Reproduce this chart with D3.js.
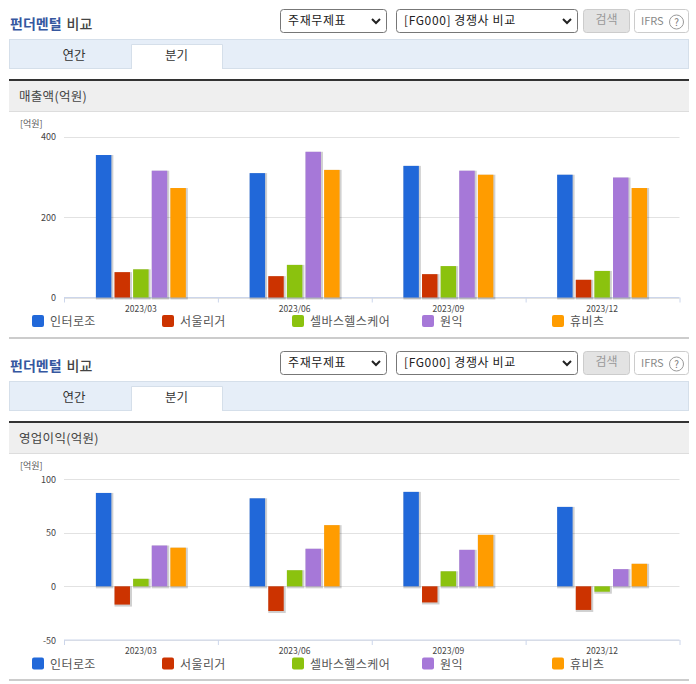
<!DOCTYPE html>
<html>
<head>
<meta charset="utf-8">
<script src="https://cdn.jsdelivr.net/npm/d3@7"></script>
<style>
	html, body { margin: 0; padding: 0; background: #fff; }
	svg { display: block; }
	text { font-family: "Noto Sans CJK KR", "Noto Sans", sans-serif; }
</style>
</head>
<body>
<svg id="chart" width="696" height="684"></svg>
<script>
var categories = ['2023/03', '2023/06', '2023/09', '2023/12'];
var companies = ['인터로조', '서울리거', '셀바스헬스케어', '원익', '휴비츠'];
var colors = ['#2168d9', '#cc3300', '#8bc20e', '#a678d8', '#ff9c00'];

// 매출액 by company, one value per quarter
var salesValues = [
	[354, 309, 327, 305],
	[63, 53, 58, 44],
	[70, 81, 78, 66],
	[315, 362, 315, 298],
	[272, 317, 305, 272]
];
var salesTicks = [0, 200, 400];

// 영업이익 by company
var profitValues = [
	[87, 82, 88, 74],
	[-17, -23, -15, -22],
	[7, 15, 14, -5],
	[38, 35, 34, 16],
	[36, 57, 48, 21]
];
var profitTicks = [-50, 0, 50, 100];

var tabs = ['연간', '분기'];
var legendX = [32, 162, 292, 422, 552];

var svg = d3.select('#chart');

function drawPanel(top, title, values, ticks, yDomain, yTop, yBottom) {
	var g = svg.append('g');

	// header row
	var head = g.append('text').attr('x', 10).attr('y', top + 29)
		.attr('font-size', 14).attr('font-weight', 700);
	head.append('tspan').attr('fill', '#35579f').text('펀더멘털');
	head.append('tspan').attr('fill', '#444').attr('dx', 5).attr('font-weight', 500).text('비교');

	drawSelect(g, 280, top + 9, 107, 24, '주재무제표');
	drawSelect(g, 396, top + 9, 182, 24, '[FG000] 경쟁사 비교');

	g.append('rect').attr('x', 583.5).attr('y', top + 9.5).attr('width', 46).attr('height', 23).attr('rx', 3)
		.attr('fill', '#e3e3e3').attr('stroke', '#ccc');
	g.append('text').attr('x', 606.5).attr('y', top + 24).attr('text-anchor', 'middle')
		.attr('font-size', 12).attr('fill', '#999').text('검색');

	g.append('rect').attr('x', 634.5).attr('y', top + 9.5).attr('width', 54).attr('height', 23).attr('rx', 3)
		.attr('fill', '#fff').attr('stroke', '#ccc');
	g.append('text').attr('x', 641).attr('y', top + 25)
		.attr('font-size', 11).attr('fill', '#888').text('IFRS');
	g.append('circle').attr('cx', 676.5).attr('cy', top + 22).attr('r', 7)
		.attr('fill', 'none').attr('stroke', '#999');
	g.append('text').attr('x', 676.5).attr('y', top + 26).attr('text-anchor', 'middle')
		.attr('font-size', 10).attr('fill', '#777').text('?');

	// tab bar
	g.append('rect').attr('x', 9.5).attr('y', top + 39.5).attr('width', 679).attr('height', 29)
		.attr('fill', '#e6eef8').attr('stroke', '#d5dfea');
	g.append('path').attr('d', 'M131.5,' + (top + 69) + 'V' + (top + 44.5) + 'H222.5V' + (top + 69))
		.attr('fill', '#fff').attr('stroke', '#d5dfea');
	g.append('text').attr('x', 74).attr('y', top + 60).attr('text-anchor', 'middle')
		.attr('font-size', 12.5).attr('fill', '#333').text(tabs[0]);
	g.append('text').attr('x', 176.5).attr('y', top + 60).attr('text-anchor', 'middle')
		.attr('font-size', 12.5).attr('fill', '#333').text(tabs[1]);

	// section title
	g.append('rect').attr('x', 9).attr('y', top + 81).attr('width', 680).attr('height', 30)
		.attr('fill', '#efefef');
	g.append('rect').attr('x', 9).attr('y', top + 79).attr('width', 680).attr('height', 2)
		.attr('fill', '#333');
	g.append('rect').attr('x', 9).attr('y', top + 111).attr('width', 680).attr('height', 1)
		.attr('fill', '#ddd');
	g.append('text').attr('x', 19).attr('y', top + 101)
		.attr('font-size', 12.5).attr('letter-spacing', 0.3).attr('fill', '#444').text(title);

	// unit
	g.append('text').attr('x', 20).attr('y', top + 127)
		.attr('font-size', 9).attr('fill', '#555').text('[억원]');

	var x0 = d3.scaleBand().domain(categories).range([64, 679])
		.paddingInner(0.415).paddingOuter(0.2075);
	var x1 = d3.scaleBand().domain(companies).range([0, x0.bandwidth()]).paddingInner(0.17);
	var y = d3.scaleLinear().domain(yDomain).range([top + yBottom, top + yTop]);

	// gridlines
	g.append('g').selectAll('line').data(ticks).enter().append('line')
		.attr('x1', 64).attr('x2', 679.5)
		.attr('y1', function(d) { return Math.round(y(d)) + 0.5; })
		.attr('y2', function(d) { return Math.round(y(d)) + 0.5; })
		.attr('stroke', '#e2e2e2');

	// y labels
	g.append('g').selectAll('text').data(ticks).enter().append('text')
		.attr('x', 56).attr('y', function(d) { return y(d) + 3.5; })
		.attr('text-anchor', 'end').attr('font-size', 9).attr('fill', '#444')
		.text(function(d) { return d; });

	// x axis at the bottom of the plot
	var axis = d3.axisBottom(d3.scalePoint().domain(d3.range(categories.length + 1)).range([64, 679.5]))
		.tickSize(5).tickFormat('');
	var axisG = g.append('g').attr('transform', 'translate(0,' + (top + yBottom) + ')').call(axis);
	axisG.selectAll('path').attr('stroke', '#ccd6eb').attr('d', 'M64,0H679.5');
	axisG.selectAll('line').attr('stroke', '#ccd6eb');

	g.append('g').selectAll('text').data(categories).enter().append('text')
		.attr('x', function(d) { return x0(d) + x0.bandwidth() / 2; })
		.attr('y', top + yBottom + 14)
		.attr('text-anchor', 'middle').attr('font-size', 8.5).attr('fill', '#444')
		.text(function(d) { return d; });

	// bars with their drop shadow
	companies.forEach(function(name, s) {
		var bars = g.append('g').selectAll('g').data(values[s]).enter().append('g')
			.attr('transform', function(d, i) { return 'translate(' + x0(categories[i]) + ',0)'; });
		bars.append('rect')
			.attr('x', x1(name) + 1)
			.attr('y', function(d) { return Math.min(y(d), y(0)) + 1; })
			.attr('width', x1.bandwidth())
			.attr('height', function(d) { return Math.abs(y(d) - y(0)); })
			.attr('fill', '#000').attr('stroke', '#000').attr('stroke-width', 2).attr('opacity', 0.18);
		bars.append('rect')
			.attr('x', x1(name))
			.attr('y', function(d) { return Math.min(y(d), y(0)); })
			.attr('width', x1.bandwidth())
			.attr('height', function(d) { return Math.abs(y(d) - y(0)); })
			.attr('fill', colors[s]);
	});

	// legend
	var legend = g.append('g').selectAll('g').data(companies).enter().append('g')
		.attr('transform', function(d, i) { return 'translate(' + legendX[i] + ',' + (top + yBottom + 17.5) + ')'; });
	legend.append('rect').attr('width', 12).attr('height', 12).attr('rx', 2)
		.attr('fill', function(d, i) { return colors[i]; });
	legend.append('text').attr('x', 18).attr('y', 11)
		.attr('font-size', 12).attr('letter-spacing', 0.4).attr('fill', '#555').text(function(d) { return d; });

	// closing rule
	g.append('rect').attr('x', 9).attr('y', top + 337).attr('width', 680).attr('height', 2)
		.attr('fill', '#ccc');
}

function drawSelect(g, px, py, w, h, label) {
	g.append('rect').attr('x', px + 0.5).attr('y', py + 0.5).attr('width', w - 1).attr('height', h - 1).attr('rx', 3)
		.attr('fill', '#fff').attr('stroke', '#777');
	g.append('text').attr('x', px + 8).attr('y', py + 16)
		.attr('font-size', 12).attr('letter-spacing', 0.6).attr('fill', '#222').text(label);
	g.append('path')
		.attr('d', 'M' + (px + w - 15) + ',' + (py + 10) + 'l4,4l4,-4')
		.attr('fill', 'none').attr('stroke', '#222').attr('stroke-width', 2);
}

drawPanel(0, '매출액(억원)', salesValues, salesTicks, [0, 400], 136.5, 297.5);
drawPanel(342, '영업이익(억원)', profitValues, profitTicks, [-50, 100], 137, 298);
</script>
</body>
</html>
